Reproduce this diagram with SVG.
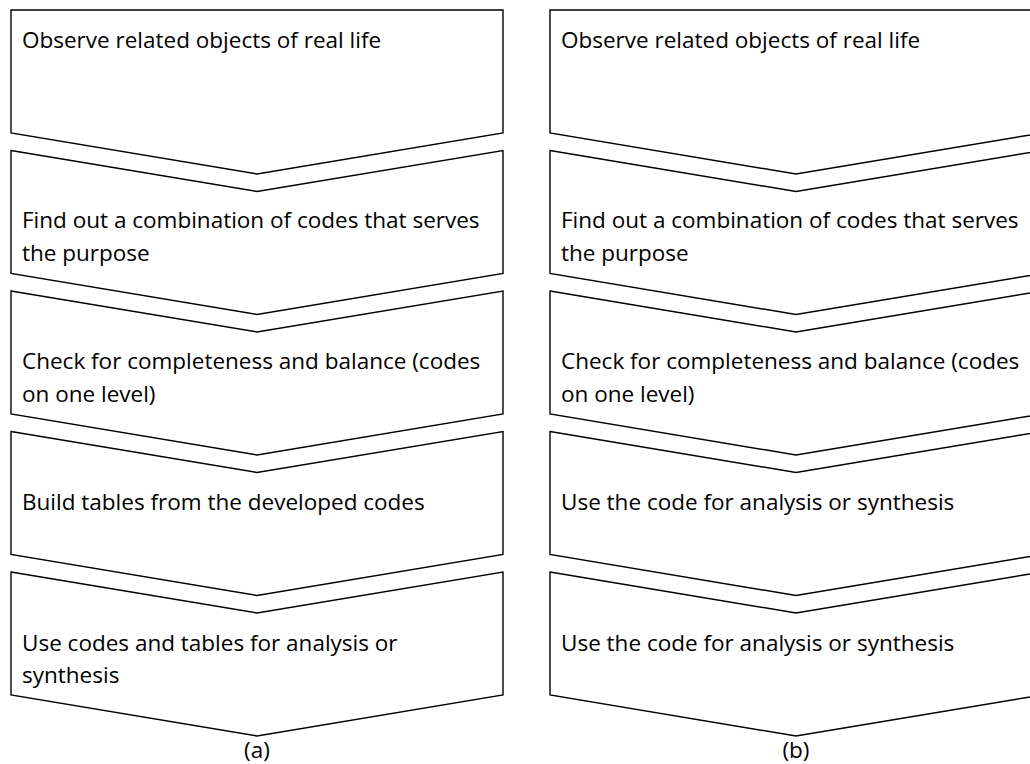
<svg xmlns="http://www.w3.org/2000/svg" width="1030" height="764" viewBox="0 0 1030 764">
  <defs>
    <style>
      .step { fill: #ffffff; stroke: #000000; stroke-width: 1.4; stroke-linejoin: miter; }
      .lbl { font-family: "Open Sans", "Liberation Sans", sans-serif; font-size: 22.5px; fill: #000000; }
      .cap { font-family: "Open Sans", "Liberation Sans", sans-serif; font-size: 22.5px; fill: #000000; text-anchor: middle; }
    </style>
    <!-- first chevron: flat top, pointed bottom (width 492, side 123, point 41) -->
    <path id="chev-first" d="M0,0 H492 V123 L246,164 L0,123 Z"/>
    <!-- following chevrons: notched top, pointed bottom -->
    <path id="chev-next" d="M0,0 L246,41 L492,0 V123 L246,164 L0,123 Z"/>
  </defs>
  <rect width="1030" height="764" fill="#ffffff"/>

  <!-- column (a) -->
  <g id="a1"><use href="#chev-first" class="step" x="11" y="10"/>
    <text class="lbl" x="22" y="48">Observe related objects of real life</text></g>
  <g id="a2"><use href="#chev-next" class="step" x="11" y="150.5"/>
    <text class="lbl" x="22" y="228">Find out a combination of codes that serves</text>
    <text class="lbl" x="22" y="261">the purpose</text></g>
  <g id="a3"><use href="#chev-next" class="step" x="11" y="291"/>
    <text class="lbl" x="22" y="369">Check for completeness and balance (codes</text>
    <text class="lbl" x="22" y="402">on one level)</text></g>
  <g id="a4"><use href="#chev-next" class="step" x="11" y="431.5"/>
    <text class="lbl" x="22" y="510">Build tables from the developed codes</text></g>
  <g id="a5"><use href="#chev-next" class="step" x="11" y="572"/>
    <text class="lbl" x="22" y="651">Use codes and tables for analysis or</text>
    <text class="lbl" x="22" y="683">synthesis</text></g>
  <text id="cap-a" class="cap" x="257" y="758">(a)</text>

  <!-- column (b) -->
  <g id="b1"><use href="#chev-first" class="step" x="550" y="10"/>
    <text class="lbl" x="561" y="48">Observe related objects of real life</text></g>
  <g id="b2"><use href="#chev-next" class="step" x="550" y="150.5"/>
    <text class="lbl" x="561" y="228">Find out a combination of codes that serves</text>
    <text class="lbl" x="561" y="261">the purpose</text></g>
  <g id="b3"><use href="#chev-next" class="step" x="550" y="291"/>
    <text class="lbl" x="561" y="369">Check for completeness and balance (codes</text>
    <text class="lbl" x="561" y="402">on one level)</text></g>
  <g id="b4"><use href="#chev-next" class="step" x="550" y="431.5"/>
    <text class="lbl" x="561" y="510">Use the code for analysis or synthesis</text></g>
  <g id="b5"><use href="#chev-next" class="step" x="550" y="572"/>
    <text class="lbl" x="561" y="651">Use the code for analysis or synthesis</text></g>
  <text id="cap-b" class="cap" x="796" y="758">(b)</text>

  <!-- the steps are stacked directly; no separate connectors -->
  <g id="connectors"/>
</svg>
